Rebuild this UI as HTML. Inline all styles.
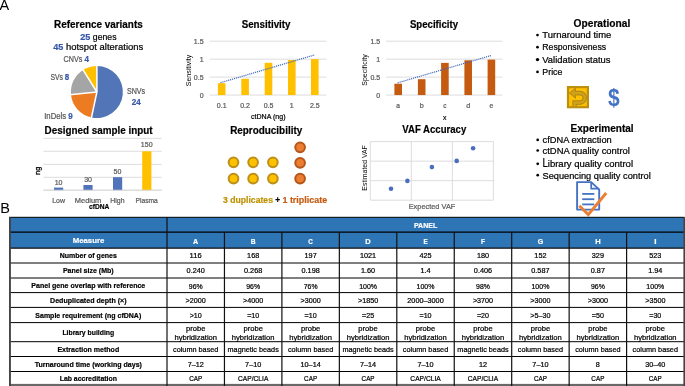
<!DOCTYPE html>
<html><head><meta charset="utf-8"><style>
html,body{margin:0;padding:0;background:#fff;width:685px;height:386px;overflow:hidden}
svg{display:block;font-family:"Liberation Sans",sans-serif}
text{white-space:pre}
svg{will-change:transform}
</style></head><body>
<svg width="685" height="386" viewBox="0 0 685 386" font-family="Liberation Sans, sans-serif"><text x="-0.50" y="9.80" font-size="14.50" fill="#000">A</text>
<text x="0.20" y="212.90" font-size="14.50" fill="#000">B</text>
<text x="98.40" y="28.00" font-size="10.64" font-weight="bold" text-anchor="middle" fill="#000" textLength="88.62" lengthAdjust="spacingAndGlyphs" stroke="#000" stroke-width="0.20">Reference variants</text>
<text x="80.29" y="39.50" font-size="9.33" font-weight="bold" fill="#3657A8" textLength="10.14" lengthAdjust="spacingAndGlyphs" stroke="#3657A8" stroke-width="0.20">25</text>
<text x="90.43" y="39.50" font-size="9.33" fill="#000" textLength="26.08" lengthAdjust="spacingAndGlyphs" stroke="#000" stroke-width="0.22"> genes</text>
<text x="53.15" y="50.30" font-size="9.33" font-weight="bold" fill="#3657A8" textLength="10.14" lengthAdjust="spacingAndGlyphs" stroke="#3657A8" stroke-width="0.20">45</text>
<text x="63.29" y="50.30" font-size="9.33" fill="#000" textLength="79.96" lengthAdjust="spacingAndGlyphs" stroke="#000" stroke-width="0.22"> hotspot alterations</text>
<path d="M96.90 92.00 L96.90 66.00 A26.00 26.00 0 1 1 91.49 117.43 Z" fill="#5275B8"/>
<path d="M96.90 92.00 L91.49 117.43 A26.00 26.00 0 0 1 71.04 94.72 Z" fill="#EC7B22"/>
<path d="M96.90 92.00 L71.04 94.72 A26.00 26.00 0 0 1 83.12 69.95 Z" fill="#A5A5A5"/>
<path d="M96.90 92.00 L83.12 69.95 A26.00 26.00 0 0 1 96.90 66.00 Z" fill="#FFC000"/>
<line x1="96.90" y1="92.00" x2="96.90" y2="64.70" stroke="#fff" stroke-width="1.50"/>
<line x1="96.90" y1="92.00" x2="91.22" y2="118.70" stroke="#fff" stroke-width="1.50"/>
<line x1="96.90" y1="92.00" x2="69.75" y2="94.85" stroke="#fff" stroke-width="1.50"/>
<line x1="96.90" y1="92.00" x2="82.43" y2="68.85" stroke="#fff" stroke-width="1.50"/>
<text x="63.60" y="62.20" font-size="8.21" fill="#595959" textLength="20.80" lengthAdjust="spacingAndGlyphs" stroke="#595959" stroke-width="0.22">CNVs </text>
<text x="84.40" y="62.20" font-size="8.21" font-weight="bold" fill="#3657A8" textLength="4.46" lengthAdjust="spacingAndGlyphs" stroke="#3657A8" stroke-width="0.20">4</text>
<text x="50.40" y="80.00" font-size="8.21" fill="#595959" textLength="14.47" lengthAdjust="spacingAndGlyphs" stroke="#595959" stroke-width="0.22">SVs </text>
<text x="64.87" y="80.00" font-size="8.21" font-weight="bold" fill="#3657A8" textLength="4.46" lengthAdjust="spacingAndGlyphs" stroke="#3657A8" stroke-width="0.20">8</text>
<text x="44.20" y="118.80" font-size="8.21" fill="#595959" textLength="24.08" lengthAdjust="spacingAndGlyphs" stroke="#595959" stroke-width="0.22">InDels </text>
<text x="68.28" y="118.80" font-size="8.21" font-weight="bold" fill="#3657A8" textLength="4.46" lengthAdjust="spacingAndGlyphs" stroke="#3657A8" stroke-width="0.20">9</text>
<text x="126.90" y="94.40" font-size="8.21" fill="#595959" textLength="18.16" lengthAdjust="spacingAndGlyphs" stroke="#595959" stroke-width="0.22">SNVs</text>
<text x="136.30" y="105.00" font-size="8.21" font-weight="bold" text-anchor="middle" fill="#3657A8" textLength="8.92" lengthAdjust="spacingAndGlyphs" stroke="#3657A8" stroke-width="0.20">24</text>
<text x="98.55" y="133.70" font-size="10.64" font-weight="bold" text-anchor="middle" fill="#000" textLength="108.02" lengthAdjust="spacingAndGlyphs" stroke="#000" stroke-width="0.20">Designed sample input</text>
<line x1="43.40" y1="138.40" x2="161.80" y2="138.40" stroke="#D9D9D9" stroke-width="0.90"/>
<line x1="43.40" y1="151.30" x2="161.80" y2="151.30" stroke="#D9D9D9" stroke-width="0.90"/>
<line x1="43.40" y1="164.40" x2="161.80" y2="164.40" stroke="#D9D9D9" stroke-width="0.90"/>
<line x1="43.40" y1="177.30" x2="161.80" y2="177.30" stroke="#D9D9D9" stroke-width="0.90"/>
<line x1="43.40" y1="190.20" x2="161.80" y2="190.20" stroke="#D9D9D9" stroke-width="0.90"/>
<rect x="54.00" y="187.60" width="9.20" height="2.60" fill="#5173B9"/>
<text x="58.60" y="184.80" font-size="7.18" text-anchor="middle" fill="#595959" textLength="7.81" lengthAdjust="spacingAndGlyphs" stroke="#595959" stroke-width="0.22">10</text>
<text x="58.60" y="202.60" font-size="7.18" text-anchor="middle" fill="#595959" textLength="12.80" lengthAdjust="spacingAndGlyphs" stroke="#595959" stroke-width="0.22">Low</text>
<rect x="83.40" y="185.00" width="9.20" height="5.20" fill="#5173B9"/>
<text x="88.10" y="182.20" font-size="7.18" text-anchor="middle" fill="#595959" textLength="7.81" lengthAdjust="spacingAndGlyphs" stroke="#595959" stroke-width="0.22">30</text>
<text x="88.10" y="202.60" font-size="7.18" text-anchor="middle" fill="#595959" textLength="26.42" lengthAdjust="spacingAndGlyphs" stroke="#595959" stroke-width="0.22">Medium</text>
<rect x="113.00" y="177.20" width="9.20" height="13.00" fill="#5173B9"/>
<text x="117.40" y="174.40" font-size="7.18" text-anchor="middle" fill="#595959" textLength="7.81" lengthAdjust="spacingAndGlyphs" stroke="#595959" stroke-width="0.22">50</text>
<text x="117.40" y="202.60" font-size="7.18" text-anchor="middle" fill="#595959" textLength="14.23" lengthAdjust="spacingAndGlyphs" stroke="#595959" stroke-width="0.22">High</text>
<rect x="142.20" y="151.30" width="9.20" height="38.90" fill="#FFC000"/>
<text x="146.70" y="147.40" font-size="7.18" text-anchor="middle" fill="#595959" textLength="11.71" lengthAdjust="spacingAndGlyphs" stroke="#595959" stroke-width="0.22">150</text>
<text x="146.70" y="202.60" font-size="7.18" text-anchor="middle" fill="#595959" textLength="22.28" lengthAdjust="spacingAndGlyphs" stroke="#595959" stroke-width="0.22">Plasma</text>
<text x="99.20" y="209.40" font-size="7.28" font-weight="bold" text-anchor="middle" fill="#000" textLength="20.20" lengthAdjust="spacingAndGlyphs" stroke="#000" stroke-width="0.20">cfDNA</text>
<line x1="43.40" y1="190.20" x2="161.80" y2="190.20" stroke="#D9D9D9" stroke-width="0.90"/>
<text x="39.70" y="170.80" font-size="7.20" text-anchor="middle" fill="#000" stroke="#000" stroke-width="0.3" transform="rotate(-90 39.7 170.8)">ng</text>
<text x="266.10" y="27.90" font-size="10.64" font-weight="bold" text-anchor="middle" fill="#000" textLength="48.89" lengthAdjust="spacingAndGlyphs" stroke="#000" stroke-width="0.20">Sensitivity</text>
<line x1="209.60" y1="41.20" x2="326.50" y2="41.20" stroke="#D9D9D9" stroke-width="0.90"/>
<line x1="209.60" y1="59.15" x2="326.50" y2="59.15" stroke="#D9D9D9" stroke-width="0.90"/>
<line x1="209.60" y1="77.10" x2="326.50" y2="77.10" stroke="#D9D9D9" stroke-width="0.90"/>
<line x1="209.60" y1="95.05" x2="326.50" y2="95.05" stroke="#D9D9D9" stroke-width="0.90"/>
<text x="203.60" y="43.70" font-size="7.18" text-anchor="end" fill="#595959" textLength="9.75" lengthAdjust="spacingAndGlyphs" stroke="#595959" stroke-width="0.22">1.5</text>
<text x="203.60" y="61.65" font-size="7.18" text-anchor="end" fill="#595959" textLength="3.90" lengthAdjust="spacingAndGlyphs" stroke="#595959" stroke-width="0.22">1</text>
<text x="203.60" y="79.60" font-size="7.18" text-anchor="end" fill="#595959" textLength="9.75" lengthAdjust="spacingAndGlyphs" stroke="#595959" stroke-width="0.22">0.5</text>
<text x="203.60" y="97.55" font-size="7.18" text-anchor="end" fill="#595959" textLength="3.90" lengthAdjust="spacingAndGlyphs" stroke="#595959" stroke-width="0.22">0</text>
<rect x="217.90" y="83.20" width="7.60" height="11.85" fill="#FFC000"/>
<text x="221.70" y="108.10" font-size="7.18" text-anchor="middle" fill="#595959" textLength="9.75" lengthAdjust="spacingAndGlyphs" stroke="#595959" stroke-width="0.22">0.1</text>
<rect x="241.30" y="78.80" width="7.60" height="16.25" fill="#FFC000"/>
<text x="245.10" y="108.10" font-size="7.18" text-anchor="middle" fill="#595959" textLength="9.75" lengthAdjust="spacingAndGlyphs" stroke="#595959" stroke-width="0.22">0.2</text>
<rect x="264.70" y="62.80" width="7.60" height="32.25" fill="#FFC000"/>
<text x="268.50" y="108.10" font-size="7.18" text-anchor="middle" fill="#595959" textLength="9.75" lengthAdjust="spacingAndGlyphs" stroke="#595959" stroke-width="0.22">0.5</text>
<rect x="288.00" y="60.00" width="7.60" height="35.05" fill="#FFC000"/>
<text x="291.80" y="108.10" font-size="7.18" text-anchor="middle" fill="#595959" textLength="3.90" lengthAdjust="spacingAndGlyphs" stroke="#595959" stroke-width="0.22">1</text>
<rect x="311.00" y="59.10" width="7.60" height="35.95" fill="#FFC000"/>
<text x="314.80" y="108.10" font-size="7.18" text-anchor="middle" fill="#595959" textLength="9.75" lengthAdjust="spacingAndGlyphs" stroke="#595959" stroke-width="0.22">2.5</text>
<text x="191.00" y="70.50" font-size="7.00" text-anchor="middle" fill="#000" transform="rotate(-90 191.00 70.50)">Sensitivity</text>
<line x1="220.50" y1="82.70" x2="314.70" y2="54.90" stroke="#3F68BC" stroke-width="1.25" stroke-dasharray="1.1 0.9"/>
<text x="268.30" y="119.00" font-size="7.28" text-anchor="middle" fill="#000" textLength="34.52" lengthAdjust="spacingAndGlyphs" stroke="#000" stroke-width="0.22">ctDNA (ng)</text>
<text x="434.00" y="27.90" font-size="10.64" font-weight="bold" text-anchor="middle" fill="#000" textLength="48.14" lengthAdjust="spacingAndGlyphs" stroke="#000" stroke-width="0.20">Specificity</text>
<line x1="386.10" y1="41.20" x2="502.50" y2="41.20" stroke="#D9D9D9" stroke-width="0.90"/>
<line x1="386.10" y1="59.15" x2="502.50" y2="59.15" stroke="#D9D9D9" stroke-width="0.90"/>
<line x1="386.10" y1="77.10" x2="502.50" y2="77.10" stroke="#D9D9D9" stroke-width="0.90"/>
<line x1="386.10" y1="95.05" x2="502.50" y2="95.05" stroke="#D9D9D9" stroke-width="0.90"/>
<text x="380.20" y="43.70" font-size="7.18" text-anchor="end" fill="#595959" textLength="9.75" lengthAdjust="spacingAndGlyphs" stroke="#595959" stroke-width="0.22">1.5</text>
<text x="380.20" y="61.65" font-size="7.18" text-anchor="end" fill="#595959" textLength="3.90" lengthAdjust="spacingAndGlyphs" stroke="#595959" stroke-width="0.22">1</text>
<text x="380.20" y="79.60" font-size="7.18" text-anchor="end" fill="#595959" textLength="9.75" lengthAdjust="spacingAndGlyphs" stroke="#595959" stroke-width="0.22">0.5</text>
<text x="380.20" y="97.55" font-size="7.18" text-anchor="end" fill="#595959" textLength="3.90" lengthAdjust="spacingAndGlyphs" stroke="#595959" stroke-width="0.22">0</text>
<rect x="394.40" y="83.70" width="7.60" height="11.35" fill="#C55A11"/>
<text x="398.20" y="108.10" font-size="7.18" text-anchor="middle" fill="#595959" textLength="3.69" lengthAdjust="spacingAndGlyphs" stroke="#595959" stroke-width="0.22">a</text>
<rect x="417.90" y="79.20" width="7.60" height="15.85" fill="#C55A11"/>
<text x="421.70" y="108.10" font-size="7.18" text-anchor="middle" fill="#595959" textLength="4.05" lengthAdjust="spacingAndGlyphs" stroke="#595959" stroke-width="0.22">b</text>
<rect x="441.10" y="62.90" width="7.60" height="32.15" fill="#C55A11"/>
<text x="444.90" y="108.10" font-size="7.18" text-anchor="middle" fill="#595959" textLength="3.26" lengthAdjust="spacingAndGlyphs" stroke="#595959" stroke-width="0.22">c</text>
<rect x="464.40" y="60.30" width="7.60" height="34.75" fill="#C55A11"/>
<text x="468.20" y="108.10" font-size="7.18" text-anchor="middle" fill="#595959" textLength="4.05" lengthAdjust="spacingAndGlyphs" stroke="#595959" stroke-width="0.22">d</text>
<rect x="487.60" y="59.60" width="7.60" height="35.45" fill="#C55A11"/>
<text x="491.40" y="108.10" font-size="7.18" text-anchor="middle" fill="#595959" textLength="3.83" lengthAdjust="spacingAndGlyphs" stroke="#595959" stroke-width="0.22">e</text>
<text x="367.20" y="70.00" font-size="7.00" text-anchor="middle" fill="#000" transform="rotate(-90 367.20 70.00)">Specificity</text>
<line x1="397.70" y1="82.80" x2="491.50" y2="55.40" stroke="#3F68BC" stroke-width="1.25" stroke-dasharray="1.1 0.9"/>
<text x="444.80" y="119.50" font-size="7.28" text-anchor="middle" fill="#000" textLength="3.38" lengthAdjust="spacingAndGlyphs" stroke="#000" stroke-width="0.22">x</text>
<text x="266.20" y="133.90" font-size="10.64" font-weight="bold" text-anchor="middle" fill="#000" textLength="72.13" lengthAdjust="spacingAndGlyphs" stroke="#000" stroke-width="0.20">Reproducibility</text>
<circle cx="233.50" cy="162.30" r="4.85" fill="#FFC000" stroke="#BC9018" stroke-width="2.0"/>
<circle cx="233.50" cy="178.60" r="4.85" fill="#FFC000" stroke="#BC9018" stroke-width="2.0"/>
<circle cx="253.10" cy="162.30" r="4.85" fill="#FFC000" stroke="#BC9018" stroke-width="2.0"/>
<circle cx="253.10" cy="178.60" r="4.85" fill="#FFC000" stroke="#BC9018" stroke-width="2.0"/>
<circle cx="272.90" cy="162.30" r="4.85" fill="#FFC000" stroke="#BC9018" stroke-width="2.0"/>
<circle cx="272.90" cy="178.60" r="4.85" fill="#FFC000" stroke="#BC9018" stroke-width="2.0"/>
<circle cx="300.1" cy="147.30" r="4.85" fill="#ED7D31" stroke="#B5561A" stroke-width="2.0"/>
<circle cx="300.1" cy="162.80" r="4.85" fill="#ED7D31" stroke="#B5561A" stroke-width="2.0"/>
<circle cx="300.1" cy="178.60" r="4.85" fill="#ED7D31" stroke="#B5561A" stroke-width="2.0"/>
<text x="223.00" y="203.00" font-size="9.33" font-weight="bold" fill="#BF9000" textLength="49.95" lengthAdjust="spacingAndGlyphs" stroke="#BF9000" stroke-width="0.20">3 duplicates</text>
<text x="272.95" y="203.00" font-size="9.33" font-weight="bold" fill="#000" textLength="9.50" lengthAdjust="spacingAndGlyphs" stroke="#000" stroke-width="0.20"> + </text>
<text x="282.45" y="203.00" font-size="9.33" font-weight="bold" fill="#C55A11" textLength="44.71" lengthAdjust="spacingAndGlyphs" stroke="#C55A11" stroke-width="0.20">1 triplicate</text>
<text x="434.30" y="132.70" font-size="10.64" font-weight="bold" text-anchor="middle" fill="#000" textLength="63.87" lengthAdjust="spacingAndGlyphs" stroke="#000" stroke-width="0.20">VAF Accuracy</text>
<line x1="370.30" y1="141.60" x2="370.30" y2="200.20" stroke="#D9D9D9" stroke-width="0.90"/>
<line x1="370.30" y1="141.60" x2="493.40" y2="141.60" stroke="#D9D9D9" stroke-width="0.90"/>
<line x1="411.33" y1="141.60" x2="411.33" y2="200.20" stroke="#D9D9D9" stroke-width="0.90"/>
<line x1="370.30" y1="161.13" x2="493.40" y2="161.13" stroke="#D9D9D9" stroke-width="0.90"/>
<line x1="452.37" y1="141.60" x2="452.37" y2="200.20" stroke="#D9D9D9" stroke-width="0.90"/>
<line x1="370.30" y1="180.67" x2="493.40" y2="180.67" stroke="#D9D9D9" stroke-width="0.90"/>
<line x1="493.40" y1="141.60" x2="493.40" y2="200.20" stroke="#D9D9D9" stroke-width="0.90"/>
<line x1="370.30" y1="200.20" x2="493.40" y2="200.20" stroke="#D9D9D9" stroke-width="0.90"/>
<circle cx="391.00" cy="188.70" r="2.3" fill="#4A6DC0"/>
<circle cx="407.40" cy="180.90" r="2.3" fill="#4A6DC0"/>
<circle cx="431.90" cy="167.10" r="2.3" fill="#4A6DC0"/>
<circle cx="456.70" cy="160.90" r="2.3" fill="#4A6DC0"/>
<circle cx="473.10" cy="148.20" r="2.3" fill="#4A6DC0"/>
<text x="432.00" y="209.40" font-size="7.84" text-anchor="middle" fill="#595959" textLength="46.68" lengthAdjust="spacingAndGlyphs" stroke="#595959" stroke-width="0.22">Expected VAF</text>
<text x="366.90" y="167.90" font-size="6.90" text-anchor="middle" fill="#000" transform="rotate(-90 366.9 167.9)">Estimated VAF</text>
<text x="601.90" y="26.90" font-size="10.64" font-weight="bold" text-anchor="middle" fill="#000" textLength="56.67" lengthAdjust="spacingAndGlyphs" stroke="#000" stroke-width="0.20">Operational</text>
<circle cx="537.5" cy="35.10" r="1.35" fill="#000"/>
<text x="542.30" y="38.10" font-size="9.33" fill="#000" textLength="69.05" lengthAdjust="spacingAndGlyphs" stroke="#000" stroke-width="0.22">Turnaround time</text>
<circle cx="537.5" cy="47.20" r="1.35" fill="#000"/>
<text x="542.30" y="50.20" font-size="9.33" fill="#000" textLength="63.85" lengthAdjust="spacingAndGlyphs" stroke="#000" stroke-width="0.22">Responsiveness</text>
<circle cx="537.5" cy="59.60" r="1.70" fill="#000"/>
<text x="542.30" y="62.60" font-size="9.33" fill="#000" textLength="68.10" lengthAdjust="spacingAndGlyphs" stroke="#000" stroke-width="0.22">Validation status</text>
<circle cx="537.5" cy="71.90" r="1.35" fill="#000"/>
<text x="542.30" y="74.90" font-size="9.33" fill="#000" textLength="20.15" lengthAdjust="spacingAndGlyphs" stroke="#000" stroke-width="0.22">Price</text>
<rect x="568.00" y="87.10" width="19.90" height="20.10" fill="#FFC000" stroke="#BC8F0E" stroke-width="2.2"/>
<path d="M574.6 106.6 V102.6 H580.0 A4.75 4.75 0 0 0 580.0 93.1 H575.0" fill="none" stroke="#B38B1A" stroke-width="4.6"/>
<path d="M569.6 93.1 L575.4 88.3 L575.4 97.9 Z" fill="#D3A313" stroke="#B38B1A" stroke-width="1.1" stroke-linejoin="miter"/>
<path d="M574.6 106.6 V102.6 H580.0 A4.75 4.75 0 0 0 580.0 93.1 H575.0" fill="none" stroke="#D3A313" stroke-width="2.2"/>
<text x="613.8" y="106.0" font-size="23.8" font-weight="bold" text-anchor="middle" fill="#4472C4" transform="translate(613.8 0) scale(0.88 1) translate(-613.8 0)">$</text>
<text x="602.10" y="131.50" font-size="10.64" font-weight="bold" text-anchor="middle" fill="#000" textLength="63.02" lengthAdjust="spacingAndGlyphs" stroke="#000" stroke-width="0.20">Experimental</text>
<circle cx="537.7" cy="139.90" r="1.35" fill="#000"/>
<text x="542.50" y="142.90" font-size="9.33" fill="#000" textLength="69.27" lengthAdjust="spacingAndGlyphs" stroke="#000" stroke-width="0.22">cfDNA extraction</text>
<circle cx="537.7" cy="150.50" r="1.35" fill="#000"/>
<text x="542.50" y="153.50" font-size="9.33" fill="#000" textLength="87.42" lengthAdjust="spacingAndGlyphs" stroke="#000" stroke-width="0.22">ctDNA quality control</text>
<circle cx="537.7" cy="163.80" r="1.35" fill="#000"/>
<text x="542.40" y="166.80" font-size="11.94" fill="#000" textLength="5.38" lengthAdjust="spacingAndGlyphs" stroke="#000" stroke-width="0.22">L</text>
<text x="547.78" y="166.80" font-size="9.33" fill="#000" textLength="85.28" lengthAdjust="spacingAndGlyphs" stroke="#000" stroke-width="0.22">ibrary quality control</text>
<circle cx="537.7" cy="175.20" r="1.35" fill="#000"/>
<text x="542.50" y="178.70" font-size="9.33" fill="#000" textLength="108.24" lengthAdjust="spacingAndGlyphs" stroke="#000" stroke-width="0.22">Sequencing quality control</text>
<path d="M577.1 182.1 H591.2 L599.2 189.6 V209.6 H577.1 Z" fill="#fff" stroke="#4472C4" stroke-width="1.9" stroke-linejoin="round"/>
<path d="M591.2 182.1 V188.6 H599.2" fill="none" stroke="#4472C4" stroke-width="1.7"/>
<line x1="582.20" y1="193.90" x2="594.30" y2="193.90" stroke="#4472C4" stroke-width="1.80"/>
<line x1="582.20" y1="199.20" x2="594.30" y2="199.20" stroke="#4472C4" stroke-width="1.80"/>
<line x1="582.20" y1="204.40" x2="594.30" y2="204.40" stroke="#4472C4" stroke-width="1.80"/>
<path d="M579.3 205.8 L588.3 214.6 L606.2 193.0" fill="none" stroke="#ED7D31" stroke-width="2.9"/>
<rect x="9.00" y="217.30" width="675.50" height="30.90" fill="#2E75B6"/>
<line x1="9.00" y1="217.30" x2="684.50" y2="217.30" stroke="#000" stroke-width="1.00"/>
<line x1="9.00" y1="232.20" x2="684.50" y2="232.20" stroke="#000" stroke-width="1.20"/>
<line x1="9.00" y1="248.20" x2="684.50" y2="248.20" stroke="#111" stroke-width="1.20"/>
<line x1="9.00" y1="263.00" x2="684.50" y2="263.00" stroke="#000" stroke-width="1.00"/>
<line x1="9.00" y1="278.00" x2="684.50" y2="278.00" stroke="#000" stroke-width="1.00"/>
<line x1="9.00" y1="292.60" x2="684.50" y2="292.60" stroke="#000" stroke-width="1.00"/>
<line x1="9.00" y1="307.40" x2="684.50" y2="307.40" stroke="#000" stroke-width="1.00"/>
<line x1="9.00" y1="322.60" x2="684.50" y2="322.60" stroke="#000" stroke-width="1.00"/>
<line x1="9.00" y1="341.70" x2="684.50" y2="341.70" stroke="#000" stroke-width="1.00"/>
<line x1="9.00" y1="356.50" x2="684.50" y2="356.50" stroke="#000" stroke-width="1.00"/>
<line x1="9.00" y1="371.50" x2="684.50" y2="371.50" stroke="#000" stroke-width="1.00"/>
<rect x="9.00" y="383.90" width="676.00" height="2.50" fill="#686868"/>
<rect x="9.00" y="217.30" width="1.90" height="168.70" fill="#444"/>
<line x1="167.00" y1="217.30" x2="167.00" y2="386.00" stroke="#111" stroke-width="1.20"/>
<line x1="224.45" y1="232.20" x2="224.45" y2="386.00" stroke="#111" stroke-width="1.20"/>
<line x1="281.90" y1="232.20" x2="281.90" y2="386.00" stroke="#111" stroke-width="1.20"/>
<line x1="339.35" y1="232.20" x2="339.35" y2="386.00" stroke="#111" stroke-width="1.20"/>
<line x1="396.80" y1="232.20" x2="396.80" y2="386.00" stroke="#111" stroke-width="1.20"/>
<line x1="454.25" y1="232.20" x2="454.25" y2="386.00" stroke="#111" stroke-width="1.20"/>
<line x1="511.70" y1="232.20" x2="511.70" y2="386.00" stroke="#111" stroke-width="1.20"/>
<line x1="569.15" y1="232.20" x2="569.15" y2="386.00" stroke="#111" stroke-width="1.20"/>
<line x1="626.60" y1="232.20" x2="626.60" y2="386.00" stroke="#111" stroke-width="1.20"/>
<rect x="683.40" y="217.30" width="1.80" height="168.70" fill="#444"/>
<text x="425.60" y="228.10" font-size="8.02" font-weight="bold" text-anchor="middle" fill="#fff" textLength="23.28" lengthAdjust="spacingAndGlyphs" stroke="#fff" stroke-width="0.20">PANEL</text>
<text x="88.50" y="243.20" font-size="8.02" font-weight="bold" text-anchor="middle" fill="#fff" textLength="31.52" lengthAdjust="spacingAndGlyphs" stroke="#fff" stroke-width="0.20">Measure</text>
<text x="195.72" y="243.50" font-size="8.02" font-weight="bold" text-anchor="middle" fill="#fff" textLength="5.21" lengthAdjust="spacingAndGlyphs" stroke="#fff" stroke-width="0.20">A</text>
<text x="253.17" y="243.50" font-size="8.02" font-weight="bold" text-anchor="middle" fill="#fff" textLength="4.82" lengthAdjust="spacingAndGlyphs" stroke="#fff" stroke-width="0.20">B</text>
<text x="310.62" y="243.50" font-size="8.02" font-weight="bold" text-anchor="middle" fill="#fff" textLength="4.55" lengthAdjust="spacingAndGlyphs" stroke="#fff" stroke-width="0.20">C</text>
<text x="368.08" y="243.50" font-size="8.02" font-weight="bold" text-anchor="middle" fill="#fff" textLength="5.42" lengthAdjust="spacingAndGlyphs" stroke="#fff" stroke-width="0.20">D</text>
<text x="425.52" y="243.50" font-size="8.02" font-weight="bold" text-anchor="middle" fill="#fff" textLength="4.20" lengthAdjust="spacingAndGlyphs" stroke="#fff" stroke-width="0.20">E</text>
<text x="482.98" y="243.50" font-size="8.02" font-weight="bold" text-anchor="middle" fill="#fff" textLength="3.95" lengthAdjust="spacingAndGlyphs" stroke="#fff" stroke-width="0.20">F</text>
<text x="540.43" y="243.50" font-size="8.02" font-weight="bold" text-anchor="middle" fill="#fff" textLength="5.48" lengthAdjust="spacingAndGlyphs" stroke="#fff" stroke-width="0.20">G</text>
<text x="597.88" y="243.50" font-size="8.02" font-weight="bold" text-anchor="middle" fill="#fff" textLength="5.43" lengthAdjust="spacingAndGlyphs" stroke="#fff" stroke-width="0.20">H</text>
<text x="655.30" y="243.50" font-size="8.02" font-weight="bold" text-anchor="middle" fill="#fff" textLength="2.29" lengthAdjust="spacingAndGlyphs" stroke="#fff" stroke-width="0.20">I</text>
<text x="88.30" y="257.90" font-size="7.46" font-weight="bold" text-anchor="middle" fill="#000" textLength="57.02" lengthAdjust="spacingAndGlyphs" stroke="#000" stroke-width="0.20">Number of genes</text>
<text x="195.72" y="258.20" font-size="7.46" text-anchor="middle" fill="#000" textLength="12.16" lengthAdjust="spacingAndGlyphs" stroke="#000" stroke-width="0.22">116</text>
<text x="253.17" y="258.20" font-size="7.46" text-anchor="middle" fill="#000" textLength="12.16" lengthAdjust="spacingAndGlyphs" stroke="#000" stroke-width="0.22">168</text>
<text x="310.62" y="258.20" font-size="7.46" text-anchor="middle" fill="#000" textLength="12.16" lengthAdjust="spacingAndGlyphs" stroke="#000" stroke-width="0.22">197</text>
<text x="368.08" y="258.20" font-size="7.46" text-anchor="middle" fill="#000" textLength="16.22" lengthAdjust="spacingAndGlyphs" stroke="#000" stroke-width="0.22">1021</text>
<text x="425.52" y="258.20" font-size="7.46" text-anchor="middle" fill="#000" textLength="12.16" lengthAdjust="spacingAndGlyphs" stroke="#000" stroke-width="0.22">425</text>
<text x="482.98" y="258.20" font-size="7.46" text-anchor="middle" fill="#000" textLength="12.16" lengthAdjust="spacingAndGlyphs" stroke="#000" stroke-width="0.22">180</text>
<text x="540.43" y="258.20" font-size="7.46" text-anchor="middle" fill="#000" textLength="12.16" lengthAdjust="spacingAndGlyphs" stroke="#000" stroke-width="0.22">152</text>
<text x="597.88" y="258.20" font-size="7.46" text-anchor="middle" fill="#000" textLength="12.16" lengthAdjust="spacingAndGlyphs" stroke="#000" stroke-width="0.22">329</text>
<text x="655.30" y="258.20" font-size="7.46" text-anchor="middle" fill="#000" textLength="12.16" lengthAdjust="spacingAndGlyphs" stroke="#000" stroke-width="0.22">523</text>
<text x="88.30" y="272.90" font-size="7.46" font-weight="bold" text-anchor="middle" fill="#000" textLength="50.74" lengthAdjust="spacingAndGlyphs" stroke="#000" stroke-width="0.20">Panel size (Mb)</text>
<text x="195.72" y="273.20" font-size="7.46" text-anchor="middle" fill="#000" textLength="18.24" lengthAdjust="spacingAndGlyphs" stroke="#000" stroke-width="0.22">0.240</text>
<text x="253.17" y="273.20" font-size="7.46" text-anchor="middle" fill="#000" textLength="18.24" lengthAdjust="spacingAndGlyphs" stroke="#000" stroke-width="0.22">0.268</text>
<text x="310.62" y="273.20" font-size="7.46" text-anchor="middle" fill="#000" textLength="18.24" lengthAdjust="spacingAndGlyphs" stroke="#000" stroke-width="0.22">0.198</text>
<text x="368.08" y="273.20" font-size="7.46" text-anchor="middle" fill="#000" textLength="14.18" lengthAdjust="spacingAndGlyphs" stroke="#000" stroke-width="0.22">1.60</text>
<text x="425.52" y="273.20" font-size="7.46" text-anchor="middle" fill="#000" textLength="10.13" lengthAdjust="spacingAndGlyphs" stroke="#000" stroke-width="0.22">1.4</text>
<text x="482.98" y="273.20" font-size="7.46" text-anchor="middle" fill="#000" textLength="18.24" lengthAdjust="spacingAndGlyphs" stroke="#000" stroke-width="0.22">0.406</text>
<text x="540.43" y="273.20" font-size="7.46" text-anchor="middle" fill="#000" textLength="18.24" lengthAdjust="spacingAndGlyphs" stroke="#000" stroke-width="0.22">0.587</text>
<text x="597.88" y="273.20" font-size="7.46" text-anchor="middle" fill="#000" textLength="14.18" lengthAdjust="spacingAndGlyphs" stroke="#000" stroke-width="0.22">0.87</text>
<text x="655.30" y="273.20" font-size="7.46" text-anchor="middle" fill="#000" textLength="14.18" lengthAdjust="spacingAndGlyphs" stroke="#000" stroke-width="0.22">1.94</text>
<text x="88.30" y="288.20" font-size="7.46" font-weight="bold" text-anchor="middle" fill="#000" textLength="113.99" lengthAdjust="spacingAndGlyphs" stroke="#000" stroke-width="0.20">Panel gene overlap with reference</text>
<text x="195.72" y="288.50" font-size="7.46" text-anchor="middle" fill="#000" textLength="13.83" lengthAdjust="spacingAndGlyphs" stroke="#000" stroke-width="0.22">96%</text>
<text x="253.17" y="288.50" font-size="7.46" text-anchor="middle" fill="#000" textLength="13.83" lengthAdjust="spacingAndGlyphs" stroke="#000" stroke-width="0.22">96%</text>
<text x="310.62" y="288.50" font-size="7.46" text-anchor="middle" fill="#000" textLength="13.83" lengthAdjust="spacingAndGlyphs" stroke="#000" stroke-width="0.22">76%</text>
<text x="368.08" y="288.50" font-size="7.46" text-anchor="middle" fill="#000" textLength="17.88" lengthAdjust="spacingAndGlyphs" stroke="#000" stroke-width="0.22">100%</text>
<text x="425.52" y="288.50" font-size="7.46" text-anchor="middle" fill="#000" textLength="17.88" lengthAdjust="spacingAndGlyphs" stroke="#000" stroke-width="0.22">100%</text>
<text x="482.98" y="288.50" font-size="7.46" text-anchor="middle" fill="#000" textLength="13.83" lengthAdjust="spacingAndGlyphs" stroke="#000" stroke-width="0.22">98%</text>
<text x="540.43" y="288.50" font-size="7.46" text-anchor="middle" fill="#000" textLength="17.88" lengthAdjust="spacingAndGlyphs" stroke="#000" stroke-width="0.22">100%</text>
<text x="597.88" y="288.50" font-size="7.46" text-anchor="middle" fill="#000" textLength="13.83" lengthAdjust="spacingAndGlyphs" stroke="#000" stroke-width="0.22">96%</text>
<text x="655.30" y="288.50" font-size="7.46" text-anchor="middle" fill="#000" textLength="17.88" lengthAdjust="spacingAndGlyphs" stroke="#000" stroke-width="0.22">100%</text>
<text x="88.30" y="302.60" font-size="7.46" font-weight="bold" text-anchor="middle" fill="#000" textLength="76.54" lengthAdjust="spacingAndGlyphs" stroke="#000" stroke-width="0.20">Deduplicated depth (×)</text>
<text x="195.72" y="302.90" font-size="7.46" text-anchor="middle" fill="#000" textLength="20.20" lengthAdjust="spacingAndGlyphs" stroke="#000" stroke-width="0.22">&gt;2000</text>
<text x="253.17" y="302.90" font-size="7.46" text-anchor="middle" fill="#000" textLength="20.20" lengthAdjust="spacingAndGlyphs" stroke="#000" stroke-width="0.22">&gt;4000</text>
<text x="310.62" y="302.90" font-size="7.46" text-anchor="middle" fill="#000" textLength="20.20" lengthAdjust="spacingAndGlyphs" stroke="#000" stroke-width="0.22">&gt;3000</text>
<text x="368.08" y="302.90" font-size="7.46" text-anchor="middle" fill="#000" textLength="20.20" lengthAdjust="spacingAndGlyphs" stroke="#000" stroke-width="0.22">&gt;1850</text>
<text x="425.52" y="302.90" font-size="7.46" text-anchor="middle" fill="#000" textLength="36.42" lengthAdjust="spacingAndGlyphs" stroke="#000" stroke-width="0.22">2000–3000</text>
<text x="482.98" y="302.90" font-size="7.46" text-anchor="middle" fill="#000" textLength="20.20" lengthAdjust="spacingAndGlyphs" stroke="#000" stroke-width="0.22">&gt;3700</text>
<text x="540.43" y="302.90" font-size="7.46" text-anchor="middle" fill="#000" textLength="20.20" lengthAdjust="spacingAndGlyphs" stroke="#000" stroke-width="0.22">&gt;3000</text>
<text x="597.88" y="302.90" font-size="7.46" text-anchor="middle" fill="#000" textLength="20.20" lengthAdjust="spacingAndGlyphs" stroke="#000" stroke-width="0.22">&gt;3000</text>
<text x="655.30" y="302.90" font-size="7.46" text-anchor="middle" fill="#000" textLength="20.20" lengthAdjust="spacingAndGlyphs" stroke="#000" stroke-width="0.22">&gt;3500</text>
<text x="88.30" y="317.70" font-size="7.46" font-weight="bold" text-anchor="middle" fill="#000" textLength="105.95" lengthAdjust="spacingAndGlyphs" stroke="#000" stroke-width="0.20">Sample requirement (ng cfDNA)</text>
<text x="195.72" y="318.00" font-size="7.46" text-anchor="middle" fill="#000" textLength="12.09" lengthAdjust="spacingAndGlyphs" stroke="#000" stroke-width="0.22">&gt;10</text>
<text x="253.17" y="318.00" font-size="7.46" text-anchor="middle" fill="#000" textLength="12.09" lengthAdjust="spacingAndGlyphs" stroke="#000" stroke-width="0.22">=10</text>
<text x="310.62" y="318.00" font-size="7.46" text-anchor="middle" fill="#000" textLength="12.09" lengthAdjust="spacingAndGlyphs" stroke="#000" stroke-width="0.22">=10</text>
<text x="368.08" y="318.00" font-size="7.46" text-anchor="middle" fill="#000" textLength="12.09" lengthAdjust="spacingAndGlyphs" stroke="#000" stroke-width="0.22">=25</text>
<text x="425.52" y="318.00" font-size="7.46" text-anchor="middle" fill="#000" textLength="12.09" lengthAdjust="spacingAndGlyphs" stroke="#000" stroke-width="0.22">=10</text>
<text x="482.98" y="318.00" font-size="7.46" text-anchor="middle" fill="#000" textLength="12.09" lengthAdjust="spacingAndGlyphs" stroke="#000" stroke-width="0.22">=20</text>
<text x="540.43" y="318.00" font-size="7.46" text-anchor="middle" fill="#000" textLength="20.13" lengthAdjust="spacingAndGlyphs" stroke="#000" stroke-width="0.22">&gt;5–30</text>
<text x="597.88" y="318.00" font-size="7.46" text-anchor="middle" fill="#000" textLength="12.09" lengthAdjust="spacingAndGlyphs" stroke="#000" stroke-width="0.22">=50</text>
<text x="655.30" y="318.00" font-size="7.46" text-anchor="middle" fill="#000" textLength="12.09" lengthAdjust="spacingAndGlyphs" stroke="#000" stroke-width="0.22">=30</text>
<text x="88.30" y="334.60" font-size="7.46" font-weight="bold" text-anchor="middle" fill="#000" textLength="51.73" lengthAdjust="spacingAndGlyphs" stroke="#000" stroke-width="0.20">Library building</text>
<text x="195.72" y="330.80" font-size="7.46" text-anchor="middle" fill="#000" textLength="19.39" lengthAdjust="spacingAndGlyphs" stroke="#000" stroke-width="0.22">probe</text>
<text x="195.72" y="339.50" font-size="7.46" text-anchor="middle" fill="#000" textLength="42.62" lengthAdjust="spacingAndGlyphs" stroke="#000" stroke-width="0.22">hybridization</text>
<text x="253.17" y="330.80" font-size="7.46" text-anchor="middle" fill="#000" textLength="19.39" lengthAdjust="spacingAndGlyphs" stroke="#000" stroke-width="0.22">probe</text>
<text x="253.17" y="339.50" font-size="7.46" text-anchor="middle" fill="#000" textLength="42.62" lengthAdjust="spacingAndGlyphs" stroke="#000" stroke-width="0.22">hybridization</text>
<text x="310.62" y="330.80" font-size="7.46" text-anchor="middle" fill="#000" textLength="19.39" lengthAdjust="spacingAndGlyphs" stroke="#000" stroke-width="0.22">probe</text>
<text x="310.62" y="339.50" font-size="7.46" text-anchor="middle" fill="#000" textLength="42.62" lengthAdjust="spacingAndGlyphs" stroke="#000" stroke-width="0.22">hybridization</text>
<text x="368.08" y="330.80" font-size="7.46" text-anchor="middle" fill="#000" textLength="19.39" lengthAdjust="spacingAndGlyphs" stroke="#000" stroke-width="0.22">probe</text>
<text x="368.08" y="339.50" font-size="7.46" text-anchor="middle" fill="#000" textLength="42.62" lengthAdjust="spacingAndGlyphs" stroke="#000" stroke-width="0.22">hybridization</text>
<text x="425.52" y="330.80" font-size="7.46" text-anchor="middle" fill="#000" textLength="19.39" lengthAdjust="spacingAndGlyphs" stroke="#000" stroke-width="0.22">probe</text>
<text x="425.52" y="339.50" font-size="7.46" text-anchor="middle" fill="#000" textLength="42.62" lengthAdjust="spacingAndGlyphs" stroke="#000" stroke-width="0.22">hybridization</text>
<text x="482.98" y="330.80" font-size="7.46" text-anchor="middle" fill="#000" textLength="19.39" lengthAdjust="spacingAndGlyphs" stroke="#000" stroke-width="0.22">probe</text>
<text x="482.98" y="339.50" font-size="7.46" text-anchor="middle" fill="#000" textLength="42.62" lengthAdjust="spacingAndGlyphs" stroke="#000" stroke-width="0.22">hybridization</text>
<text x="540.43" y="330.80" font-size="7.46" text-anchor="middle" fill="#000" textLength="19.39" lengthAdjust="spacingAndGlyphs" stroke="#000" stroke-width="0.22">probe</text>
<text x="540.43" y="339.50" font-size="7.46" text-anchor="middle" fill="#000" textLength="42.62" lengthAdjust="spacingAndGlyphs" stroke="#000" stroke-width="0.22">hybridization</text>
<text x="597.88" y="330.80" font-size="7.46" text-anchor="middle" fill="#000" textLength="19.39" lengthAdjust="spacingAndGlyphs" stroke="#000" stroke-width="0.22">probe</text>
<text x="597.88" y="339.50" font-size="7.46" text-anchor="middle" fill="#000" textLength="42.62" lengthAdjust="spacingAndGlyphs" stroke="#000" stroke-width="0.22">hybridization</text>
<text x="655.30" y="330.80" font-size="7.46" text-anchor="middle" fill="#000" textLength="19.39" lengthAdjust="spacingAndGlyphs" stroke="#000" stroke-width="0.22">probe</text>
<text x="655.30" y="339.50" font-size="7.46" text-anchor="middle" fill="#000" textLength="42.62" lengthAdjust="spacingAndGlyphs" stroke="#000" stroke-width="0.22">hybridization</text>
<text x="88.30" y="352.00" font-size="7.46" font-weight="bold" text-anchor="middle" fill="#000" textLength="61.83" lengthAdjust="spacingAndGlyphs" stroke="#000" stroke-width="0.20">Extraction method</text>
<text x="195.72" y="352.30" font-size="7.46" text-anchor="middle" fill="#000" textLength="45.39" lengthAdjust="spacingAndGlyphs" stroke="#000" stroke-width="0.22">column based</text>
<text x="253.17" y="352.30" font-size="7.46" text-anchor="middle" fill="#000" textLength="51.23" lengthAdjust="spacingAndGlyphs" stroke="#000" stroke-width="0.22">magnetic beads</text>
<text x="310.62" y="352.30" font-size="7.46" text-anchor="middle" fill="#000" textLength="45.39" lengthAdjust="spacingAndGlyphs" stroke="#000" stroke-width="0.22">column based</text>
<text x="368.08" y="352.30" font-size="7.46" text-anchor="middle" fill="#000" textLength="51.23" lengthAdjust="spacingAndGlyphs" stroke="#000" stroke-width="0.22">magnetic beads</text>
<text x="425.52" y="352.30" font-size="7.46" text-anchor="middle" fill="#000" textLength="45.39" lengthAdjust="spacingAndGlyphs" stroke="#000" stroke-width="0.22">column based</text>
<text x="482.98" y="352.30" font-size="7.46" text-anchor="middle" fill="#000" textLength="51.23" lengthAdjust="spacingAndGlyphs" stroke="#000" stroke-width="0.22">magnetic beads</text>
<text x="540.43" y="352.30" font-size="7.46" text-anchor="middle" fill="#000" textLength="45.39" lengthAdjust="spacingAndGlyphs" stroke="#000" stroke-width="0.22">column based</text>
<text x="597.88" y="352.30" font-size="7.46" text-anchor="middle" fill="#000" textLength="45.39" lengthAdjust="spacingAndGlyphs" stroke="#000" stroke-width="0.22">column based</text>
<text x="655.30" y="352.30" font-size="7.46" text-anchor="middle" fill="#000" textLength="45.39" lengthAdjust="spacingAndGlyphs" stroke="#000" stroke-width="0.22">column based</text>
<text x="88.30" y="367.00" font-size="7.46" font-weight="bold" text-anchor="middle" fill="#000" textLength="107.27" lengthAdjust="spacingAndGlyphs" stroke="#000" stroke-width="0.20">Turnaround time (working days)</text>
<text x="195.72" y="367.30" font-size="7.46" text-anchor="middle" fill="#000" textLength="16.15" lengthAdjust="spacingAndGlyphs" stroke="#000" stroke-width="0.22">7–12</text>
<text x="253.17" y="367.30" font-size="7.46" text-anchor="middle" fill="#000" textLength="16.15" lengthAdjust="spacingAndGlyphs" stroke="#000" stroke-width="0.22">7–10</text>
<text x="310.62" y="367.30" font-size="7.46" text-anchor="middle" fill="#000" textLength="20.20" lengthAdjust="spacingAndGlyphs" stroke="#000" stroke-width="0.22">10–14</text>
<text x="368.08" y="367.30" font-size="7.46" text-anchor="middle" fill="#000" textLength="16.15" lengthAdjust="spacingAndGlyphs" stroke="#000" stroke-width="0.22">7–14</text>
<text x="425.52" y="367.30" font-size="7.46" text-anchor="middle" fill="#000" textLength="16.15" lengthAdjust="spacingAndGlyphs" stroke="#000" stroke-width="0.22">7–10</text>
<text x="482.98" y="367.30" font-size="7.46" text-anchor="middle" fill="#000" textLength="8.11" lengthAdjust="spacingAndGlyphs" stroke="#000" stroke-width="0.22">12</text>
<text x="540.43" y="367.30" font-size="7.46" text-anchor="middle" fill="#000" textLength="16.15" lengthAdjust="spacingAndGlyphs" stroke="#000" stroke-width="0.22">7–10</text>
<text x="597.88" y="367.30" font-size="7.46" text-anchor="middle" fill="#000" textLength="4.05" lengthAdjust="spacingAndGlyphs" stroke="#000" stroke-width="0.22">8</text>
<text x="655.30" y="367.30" font-size="7.46" text-anchor="middle" fill="#000" textLength="20.20" lengthAdjust="spacingAndGlyphs" stroke="#000" stroke-width="0.22">30–40</text>
<text x="88.30" y="380.90" font-size="7.46" font-weight="bold" text-anchor="middle" fill="#000" textLength="57.26" lengthAdjust="spacingAndGlyphs" stroke="#000" stroke-width="0.20">Lab accreditation</text>
<text x="195.72" y="381.20" font-size="7.46" text-anchor="middle" fill="#000" textLength="13.03" lengthAdjust="spacingAndGlyphs" stroke="#000" stroke-width="0.22">CAP</text>
<text x="253.17" y="381.20" font-size="7.46" text-anchor="middle" fill="#000" textLength="30.39" lengthAdjust="spacingAndGlyphs" stroke="#000" stroke-width="0.22">CAP/CLIA</text>
<text x="310.62" y="381.20" font-size="7.46" text-anchor="middle" fill="#000" textLength="13.03" lengthAdjust="spacingAndGlyphs" stroke="#000" stroke-width="0.22">CAP</text>
<text x="368.08" y="381.20" font-size="7.46" text-anchor="middle" fill="#000" textLength="13.03" lengthAdjust="spacingAndGlyphs" stroke="#000" stroke-width="0.22">CAP</text>
<text x="425.52" y="381.20" font-size="7.46" text-anchor="middle" fill="#000" textLength="30.39" lengthAdjust="spacingAndGlyphs" stroke="#000" stroke-width="0.22">CAP/CLIA</text>
<text x="482.98" y="381.20" font-size="7.46" text-anchor="middle" fill="#000" textLength="30.39" lengthAdjust="spacingAndGlyphs" stroke="#000" stroke-width="0.22">CAP/CLIA</text>
<text x="540.43" y="381.20" font-size="7.46" text-anchor="middle" fill="#000" textLength="13.03" lengthAdjust="spacingAndGlyphs" stroke="#000" stroke-width="0.22">CAP</text>
<text x="597.88" y="381.20" font-size="7.46" text-anchor="middle" fill="#000" textLength="13.03" lengthAdjust="spacingAndGlyphs" stroke="#000" stroke-width="0.22">CAP</text>
<text x="655.30" y="381.20" font-size="7.46" text-anchor="middle" fill="#000" textLength="13.03" lengthAdjust="spacingAndGlyphs" stroke="#000" stroke-width="0.22">CAP</text></svg>
</body></html>
